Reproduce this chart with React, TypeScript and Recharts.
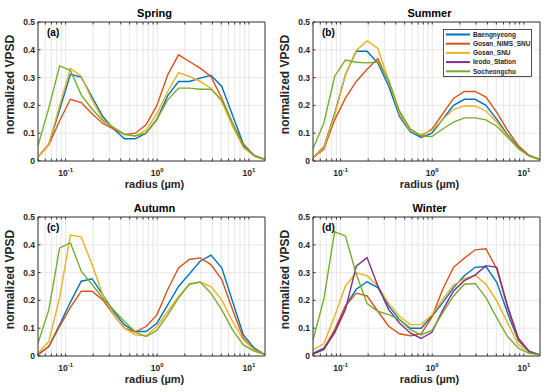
import React from 'react';
import { LineChart, Line, XAxis, YAxis, CartesianGrid, Legend } from 'recharts';

// AERONET-style radius bins (µm)
const radius = [0.05, 0.0656, 0.0861, 0.1129, 0.1482, 0.1944, 0.2551, 0.3347, 0.4392, 0.5762, 0.7561, 0.992, 1.3016, 1.7078, 2.2407, 2.94, 3.8575, 5.0613, 6.6407, 8.7131, 11.4323, 15];

const seriesNames = ['Baengnyeong', 'Gosan_NIMS_SNU', 'Gosan_SNU', 'Ieodo_Station', 'Socheongcho'];
const seriesColors = ['#0072BD', '#D95319', '#EDB120', '#7E2F8E', '#77AC30'];

const xTicks = [0.05, 0.06, 0.07, 0.08, 0.09, 0.1, 0.2, 0.3, 0.4, 0.5, 0.6, 0.7, 0.8, 0.9, 1, 2, 3, 4, 5, 6, 7, 8, 9, 10];
const xMajor = [0.1, 1, 10];
const xMajorExp = ['-1', '0', '1'];
const yTicks = [0, 0.1, 0.2, 0.3, 0.4, 0.5];
const yTickLabels = ['0', '0.1', '0.2', '0.3', '0.4', '0.5'];
const Y_MAX = 0.5;

// Spring
const springBaengnyeong = [0.015, 0.06, 0.185, 0.312, 0.302, 0.23, 0.16, 0.115, 0.08, 0.08, 0.1, 0.15, 0.235, 0.286, 0.286, 0.298, 0.308, 0.268, 0.165, 0.06, 0.02, 0.005];
const springGosanNims = [0.015, 0.058, 0.145, 0.222, 0.21, 0.17, 0.135, 0.115, 0.095, 0.1, 0.13, 0.2, 0.31, 0.382, 0.358, 0.334, 0.304, 0.226, 0.136, 0.058, 0.02, 0.005];
const springGosanSnu = [0.015, 0.06, 0.2, 0.333, 0.305, 0.22, 0.15, 0.12, 0.095, 0.09, 0.11, 0.17, 0.25, 0.318, 0.304, 0.286, 0.262, 0.214, 0.124, 0.05, 0.018, 0.005];
const springSocheongcho = [0.055, 0.19, 0.342, 0.326, 0.238, 0.187, 0.145, 0.12, 0.097, 0.09, 0.1, 0.15, 0.22, 0.262, 0.262, 0.258, 0.258, 0.22, 0.136, 0.052, 0.018, 0.005];

// Summer
const summerBaengnyeong = [0.012, 0.05, 0.17, 0.31, 0.395, 0.395, 0.352, 0.27, 0.16, 0.105, 0.085, 0.1, 0.15, 0.2, 0.222, 0.222, 0.2, 0.15, 0.095, 0.05, 0.02, 0.005];
const summerGosanNims = [0.012, 0.042, 0.148, 0.226, 0.286, 0.33, 0.368, 0.285, 0.175, 0.115, 0.09, 0.115, 0.17, 0.225, 0.25, 0.25, 0.23, 0.175, 0.11, 0.055, 0.02, 0.005];
const summerGosanSnu = [0.012, 0.048, 0.165, 0.31, 0.398, 0.432, 0.405, 0.29, 0.17, 0.11, 0.095, 0.11, 0.15, 0.185, 0.198, 0.198, 0.18, 0.14, 0.09, 0.045, 0.018, 0.005];
const summerSocheongcho = [0.045, 0.136, 0.304, 0.363, 0.355, 0.353, 0.356, 0.29, 0.18, 0.115, 0.09, 0.088, 0.115, 0.14, 0.155, 0.155, 0.148, 0.125, 0.085, 0.045, 0.018, 0.005];

// Autumn
const autumnBaengnyeong = [0.005, 0.034, 0.112, 0.194, 0.269, 0.278, 0.22, 0.16, 0.112, 0.088, 0.088, 0.118, 0.184, 0.25, 0.295, 0.341, 0.363, 0.317, 0.196, 0.076, 0.028, 0.005];
const autumnGosanNims = [0.005, 0.034, 0.106, 0.175, 0.233, 0.233, 0.202, 0.148, 0.1, 0.086, 0.106, 0.148, 0.239, 0.317, 0.347, 0.353, 0.329, 0.275, 0.166, 0.064, 0.022, 0.005];
const autumnGosanSnu = [0.01, 0.052, 0.21, 0.435, 0.428, 0.329, 0.22, 0.148, 0.1, 0.076, 0.073, 0.106, 0.16, 0.214, 0.257, 0.266, 0.25, 0.202, 0.124, 0.058, 0.022, 0.005];
const autumnSocheongcho = [0.046, 0.166, 0.389, 0.407, 0.305, 0.257, 0.208, 0.166, 0.124, 0.086, 0.07, 0.092, 0.148, 0.208, 0.259, 0.266, 0.226, 0.166, 0.094, 0.04, 0.018, 0.005];

// Winter
const winterBaengnyeong = [0.01, 0.028, 0.089, 0.18, 0.24, 0.267, 0.246, 0.18, 0.131, 0.1, 0.1, 0.143, 0.192, 0.246, 0.289, 0.319, 0.322, 0.265, 0.155, 0.055, 0.017, 0.004];
const winterGosanNims = [0.008, 0.024, 0.095, 0.18, 0.226, 0.216, 0.161, 0.107, 0.08, 0.073, 0.08, 0.14, 0.24, 0.319, 0.352, 0.382, 0.386, 0.313, 0.174, 0.058, 0.016, 0.004];
const winterGosanSnu = [0.022, 0.044, 0.143, 0.252, 0.299, 0.289, 0.252, 0.189, 0.143, 0.113, 0.113, 0.148, 0.204, 0.255, 0.277, 0.291, 0.258, 0.198, 0.119, 0.04, 0.016, 0.004];
const winterIeodo = [0.007, 0.024, 0.083, 0.167, 0.323, 0.354, 0.252, 0.167, 0.119, 0.083, 0.063, 0.085, 0.165, 0.234, 0.271, 0.291, 0.325, 0.319, 0.18, 0.064, 0.016, 0.004];
const winterSocheongcho = [0.058, 0.204, 0.447, 0.432, 0.295, 0.189, 0.161, 0.149, 0.131, 0.095, 0.076, 0.092, 0.155, 0.216, 0.258, 0.261, 0.21, 0.137, 0.07, 0.028, 0.01, 0.004];

type SeriesMap = Record<string, number[]>;

const buildRows = (series: SeriesMap) =>
  radius.map((r, i) => {
    const row: Record<string, number> = { r };
    Object.keys(series).forEach((k) => {
      row[k] = series[k][i];
    });
    return row;
  });

const panels = [
  {
    title: 'Spring', tag: '(a)', left: 0, top: 0, legend: false,
    series: { Baengnyeong: springBaengnyeong, Gosan_NIMS_SNU: springGosanNims, Gosan_SNU: springGosanSnu, Socheongcho: springSocheongcho } as SeriesMap,
  },
  {
    title: 'Summer', tag: '(b)', left: 275, top: 0, legend: true,
    series: { Baengnyeong: summerBaengnyeong, Gosan_NIMS_SNU: summerGosanNims, Gosan_SNU: summerGosanSnu, Socheongcho: summerSocheongcho } as SeriesMap,
  },
  {
    title: 'Autumn', tag: '(c)', left: 0, top: 195, legend: false,
    series: { Baengnyeong: autumnBaengnyeong, Gosan_NIMS_SNU: autumnGosanNims, Gosan_SNU: autumnGosanSnu, Socheongcho: autumnSocheongcho } as SeriesMap,
  },
  {
    title: 'Winter', tag: '(d)', left: 275, top: 195, legend: false,
    series: { Baengnyeong: winterBaengnyeong, Gosan_NIMS_SNU: winterGosanNims, Gosan_SNU: winterGosanSnu, Ieodo_Station: winterIeodo, Socheongcho: winterSocheongcho } as SeriesMap,
  },
];

const W = 275;
const H = 196;
const PLOT_LEFT = 38;
const PLOT_RIGHT = 265;
const PLOT_TOP = 22;
const PLOT_BOTTOM = 161;
const AXIS_COLOR = '#383838';
const TEXT_COLOR = '#262626';

const XTick = (props: any) => {
  const { x, y, payload } = props;
  const idx = xMajor.indexOf(payload.value);
  if (idx < 0) return null;
  return (
    <text x={x} y={y + 15} textAnchor="middle" fontSize={8.5} fontWeight={700} fill={TEXT_COLOR}>
      10
      <tspan dy={-4} fontSize={6}>{xMajorExp[idx]}</tspan>
    </text>
  );
};

const NoLabel = () => <g />;

const LegendBox = () => (
  <svg width={90} height={49} style={{ display: 'block' }}>
    <rect x={0.5} y={0.5} width={88} height={47} fill="#fff" stroke={TEXT_COLOR} strokeWidth={0.8} />
    {seriesNames.map((name, i) => {
      const cy = 5.5 + i * 9.2;
      return (
        <g key={name}>
          <line x1={3} x2={27} y1={cy} y2={cy} stroke={seriesColors[i]} strokeWidth={2} />
          <text x={30} y={cy + 2.3} fontSize={6.5} fontWeight={700} fill={TEXT_COLOR}>{name}</text>
        </g>
      );
    })}
  </svg>
);

const YTickLabels = () => (
  <div style={{ position: 'absolute', left: 0, top: 0, width: PLOT_LEFT - 3, height: H, pointerEvents: 'none' }}>
    {yTicks.map((v, i) => (
      <div
        key={`yt${v}`}
        style={{
          position: 'absolute', right: 0, top: PLOT_BOTTOM - (v / Y_MAX) * (PLOT_BOTTOM - PLOT_TOP) - 5,
          height: 10, lineHeight: '10px', fontSize: 8.5, fontWeight: 700, color: TEXT_COLOR, whiteSpace: 'nowrap',
        }}
      >
        {yTickLabels[i]}
      </div>
    ))}
  </div>
);

const Panel = ({ p }: { p: (typeof panels)[number] }) => {
  const rows = buildRows(p.series);
  const keys = Object.keys(p.series);
  const midX = (PLOT_LEFT + PLOT_RIGHT) / 2 + 3;
  return (
    <LineChart width={W} height={H} data={rows} margin={{ top: PLOT_TOP - 1, right: W - PLOT_RIGHT - 1, bottom: 0, left: 0 }}>
      <CartesianGrid xAxisId="b" stroke="#e1e1e1" strokeWidth={0.8} />
      <XAxis
        xAxisId="b" dataKey="r" type="number" scale="log" domain={[0.05, 15]} ticks={xTicks} interval={0}
        tick={<XTick />} tickSize={-2.5} tickMargin={2.5} height={H - PLOT_BOTTOM} stroke={AXIS_COLOR} allowDataOverflow
      />
      <XAxis
        xAxisId="t" orientation="top" dataKey="r" type="number" scale="log" domain={[0.05, 15]} ticks={xTicks} interval={0}
        tick={<NoLabel />} tickSize={-2.5} height={1} stroke={AXIS_COLOR} allowDataOverflow
      />
      <YAxis
        type="number" domain={[0, Y_MAX]} ticks={yTicks} interval={0} tickSize={-2.5}
        width={PLOT_LEFT} stroke={AXIS_COLOR} tick={<NoLabel />}
      />
      <YAxis
        yAxisId="r" orientation="right" type="number" domain={[0, Y_MAX]} ticks={yTicks} interval={0} tickSize={-2.5}
        tick={<NoLabel />} width={1} stroke={AXIS_COLOR}
      />
      {keys.map((k) => (
        <Line
          key={k} xAxisId="b" type="linear" dataKey={k} stroke={seriesColors[seriesNames.indexOf(k)]}
          strokeWidth={1.4} dot={false} activeDot={false} isAnimationActive={false}
        />
      ))}
      {p.legend && (
        <Legend
          layout="vertical" align="center" verticalAlign="middle" content={() => <LegendBox />}
          wrapperStyle={{ left: 168, top: 29, width: 90, height: 49 }}
        />
      )}
      <text x={PLOT_LEFT + 9} y={35.5} fontSize={10} fontWeight={700} fill="#000">{p.tag}</text>
      <text x={midX} y={16.5} textAnchor="middle" fontSize={11} fontWeight={700} fill="#000">{p.title}</text>
      <text x={midX} y={187.5} textAnchor="middle" fontSize={11} fontWeight={700} fill={TEXT_COLOR}>radius (µm)</text>
      <text
        x={0} y={0} textAnchor="middle" fontSize={12} fontWeight={700} fill={TEXT_COLOR}
        transform={`translate(14, ${(PLOT_TOP + PLOT_BOTTOM) / 2 - 7}) rotate(-90)`}
      >
        normalized VPSD
      </text>
    </LineChart>
  );
};

export default function App() {
  return (
    <div
      style={{
        position: 'absolute', left: 0, top: 0, width: 550, height: 392, background: '#fff',
        fontFamily: "'Liberation Sans', Arial, Helvetica, sans-serif",
      }}
    >
      {panels.map((p) => (
        <div key={p.title} style={{ position: 'absolute', left: p.left, top: p.top, width: W, height: H }}>
          <Panel p={p} />
          <YTickLabels />
        </div>
      ))}
    </div>
  );
}
